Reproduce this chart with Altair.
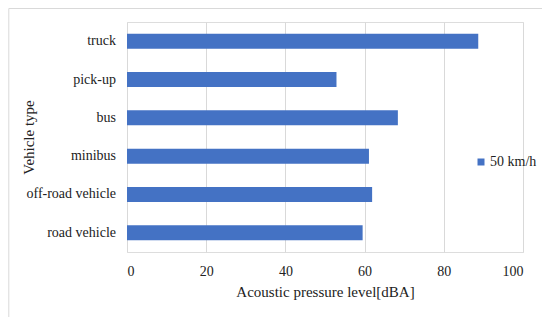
import altair as alt
import pandas as pd

categories = ["truck", "pick-up", "bus", "minibus", "off-road vehicle", "road vehicle"]
values = [88.7, 52.9, 68.4, 61.1, 61.9, 59.5]
series_name = "50 km/h"
x_ticks = [0, 20, 40, 60, 80, 100]

df = pd.DataFrame({"vehicle": categories, "level": values, "series": [series_name] * len(categories)})

FONT = "'Liberation Serif', 'DejaVu Serif', serif"
TXT = "#222222"
BAR = "#4472C4"
GRID = "#d9d9d9"

W, H = 396, 230

frame = alt.Chart(pd.DataFrame({"f": [0]})).mark_rect(
    fill=None, stroke="#d9d9d9", strokeWidth=1
).encode(
    x=alt.value(-118.2), x2=alt.value(417.3),
    y=alt.value(-13.5), y2=alt.value(297)
)

bars = alt.Chart(df).mark_bar().encode(
    y=alt.Y(
        "vehicle:N", sort=categories, title="Vehicle type",
        scale=alt.Scale(paddingInner=0.609, paddingOuter=0.305),
        axis=alt.Axis(
            domain=False, ticks=False, grid=False,
            labelFont=FONT, labelFontSize=14, labelColor=TXT, labelPadding=11.5,
            titleFont=FONT, titleFontSize=15, titleFontWeight="normal", titleColor=TXT,
            titleX=-98.4, titleY=H / 2, titleAngle=270, titleAlign="center", titleBaseline="middle",
        ),
    ),
    x=alt.X(
        "level:Q", title="Acoustic pressure level[dBA]",
        scale=alt.Scale(domain=[0, 100], nice=False),
        axis=alt.Axis(
            values=x_ticks, domain=False, ticks=False, grid=True,
            gridColor=GRID, gridWidth=1,
            labelFont=FONT, labelFontSize=14, labelColor=TXT, labelPadding=12,
            titleFont=FONT, titleFontSize=15, titleFontWeight="normal", titleColor=TXT,
            titleX=W / 2, titleY=39.7, titleAlign="center", titleBaseline="middle",
        ),
    ),
    color=alt.Color(
        "series:N", scale=alt.Scale(range=[BAR]),
        legend=alt.Legend(
            title=None, orient="none", legendX=347, legendY=133,
            symbolType="square", symbolSize=49, symbolStrokeWidth=0,
            labelFont=FONT, labelFontSize=14, labelColor=TXT, labelOffset=2,
        ),
    ),
)

chart = alt.layer(frame, bars).properties(
    width=W, height=H,
    autosize=alt.AutoSizeParams(type="none"),
    padding={"left": 119, "top": 14, "right": 19, "bottom": 65},
).configure_view(stroke=None).configure(background="white")

chart.save("out.html", embed_options={"renderer": "svg", "actions": False})
